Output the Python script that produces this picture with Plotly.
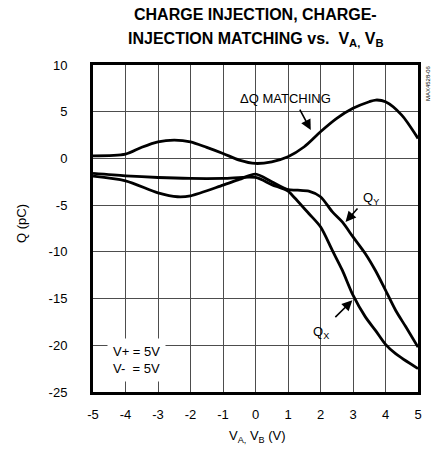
import plotly.graph_objects as go

# valori (V, pC)
dq_v = [-5, -4, -3.5, -3, -2.5, -2, -1.5, -1, -0.5, 0, 0.5, 1, 1.5, 2, 2.5, 3, 3.5, 3.7, 4, 4.5, 5]
dq_q = [0.28, 0.46, 1.2, 1.78, 1.96, 1.78, 1.18, 0.53, -0.18, -0.54, -0.36, 0.18, 1.25, 2.86, 4.29, 5.36, 6.07, 6.25, 6.07, 4.64, 2.14]

qx_v = [-5, -4, -3, -2, -1, 0, 0.5, 1, 1.13, 1.64, 2, 2.36, 2.67, 3, 3.38, 3.69, 4, 4.31, 5]
qx_q = [-1.6, -1.86, -2.04, -2.14, -2.14, -2.04, -2.8, -3.5, -3.93, -5.89, -7.32, -9.82, -11.96, -14.64, -16.96, -18.4, -19.9, -20.9, -22.5]

qy_v = [-5, -4, -3, -2.4, -2, -1, -0.5, 0, 0.5, 1, 1.3, 1.64, 2, 2.36, 2.67, 3, 3.38, 3.69, 4, 4.31, 4.62, 5]
qy_q = [-1.9, -2.4, -3.68, -4.1, -4.0, -2.86, -2.25, -1.68, -2.5, -3.35, -3.4, -3.5, -4.1, -5.7, -6.8, -8.4, -10.2, -12.0, -14.1, -16.25, -18.0, -20.2]

x_ticks = [-5, -4, -3, -2, -1, 0, 1, 2, 3, 4, 5]
y_ticks = [-25, -20, -15, -10, -5, 0, 5, 10]

FONT = "Liberation Sans, Arial, sans-serif"


def testo(text, x, y, size=13, paper=False, **kw):
    d = dict(text=text, x=x, y=y, showarrow=False, xanchor="center", yanchor="middle",
             font=dict(size=size, family=FONT, color="black"))
    if paper:
        d.update(xref="paper", yref="paper")
    d.update(kw)
    return d


def freccia(x, y, ax, ay):
    return dict(text="", x=x, y=y, ax=ax, ay=ay, axref="x", ayref="y", showarrow=True,
                arrowhead=2, arrowsize=1.3, arrowwidth=1.6, arrowcolor="black")


fig = go.Figure()
for xs, ys in [(dq_v, dq_q), (qx_v, qx_q), (qy_v, qy_q)]:
    fig.add_trace(go.Scatter(x=xs, y=ys, mode="lines",
                             line=dict(color="black", width=2.8, shape="spline", smoothing=0.8),
                             showlegend=False, hoverinfo="skip"))

ann = [
    # titolo su due righe
    testo("<b>CHARGE INJECTION, CHARGE-</b>", 0.5015, 1.153, size=16, paper=True),
    testo("<b>INJECTION MATCHING vs.&nbsp;&nbsp;V<sub>A,</sub>&nbsp;V<sub>B</sub></b>", 0.5015, 1.0795,
          size=16, paper=True),
    # titoli assi
    testo("Q (pC)", -0.2185, 0.517, paper=True, textangle=-90),
    testo("V<sub>A,</sub> V<sub>B</sub> (V)", 0.505, -0.1376, paper=True),
    testo("MAX4528-06", 1.031, 0.945, size=6, paper=True, textangle=-90),
    # etichette curve
    testo("ΔQ MATCHING", 0.93, 6.46),
    freccia(1.70, 3.03, 1.34, 5.39),
    testo("Q<sub>Y</sub>", 3.54, -4.3),
    freccia(2.77, -6.8, 3.18, -5.19),
    testo("Q<sub>X</sub>", 2.0, -18.6),
    freccia(2.98, -15.19, 2.41, -17.15),
    testo("V+ = 5V<br>V-  = 5V", -3.67, -21.6, align="left", bgcolor="white", borderpad=5),
]

fig.update_layout(
    width=441, height=454,
    margin=dict(l=85, r=31, t=57, b=70),
    plot_bgcolor="white", paper_bgcolor="white",
    font=dict(family=FONT, size=13, color="black"),
    annotations=ann,
)
fig.update_xaxes(range=[-5, 5], tickvals=x_ticks, ticktext=[str(v) for v in x_ticks],
                 showgrid=True, gridcolor="#4d4d4d", gridwidth=1,
                 showline=True, mirror=True, linecolor="black", linewidth=3, zeroline=False,
                 ticks="", ticklabelstandoff=8, tickfont=dict(size=13))
fig.update_yaxes(range=[-25, 10], tickvals=y_ticks, ticktext=[str(v) for v in y_ticks],
                 showgrid=True, gridcolor="#4d4d4d", gridwidth=1,
                 showline=True, mirror=True, linecolor="black", linewidth=3, zeroline=False,
                 ticks="", ticklabelstandoff=20, tickfont=dict(size=13))

fig.write_html("out.html")
